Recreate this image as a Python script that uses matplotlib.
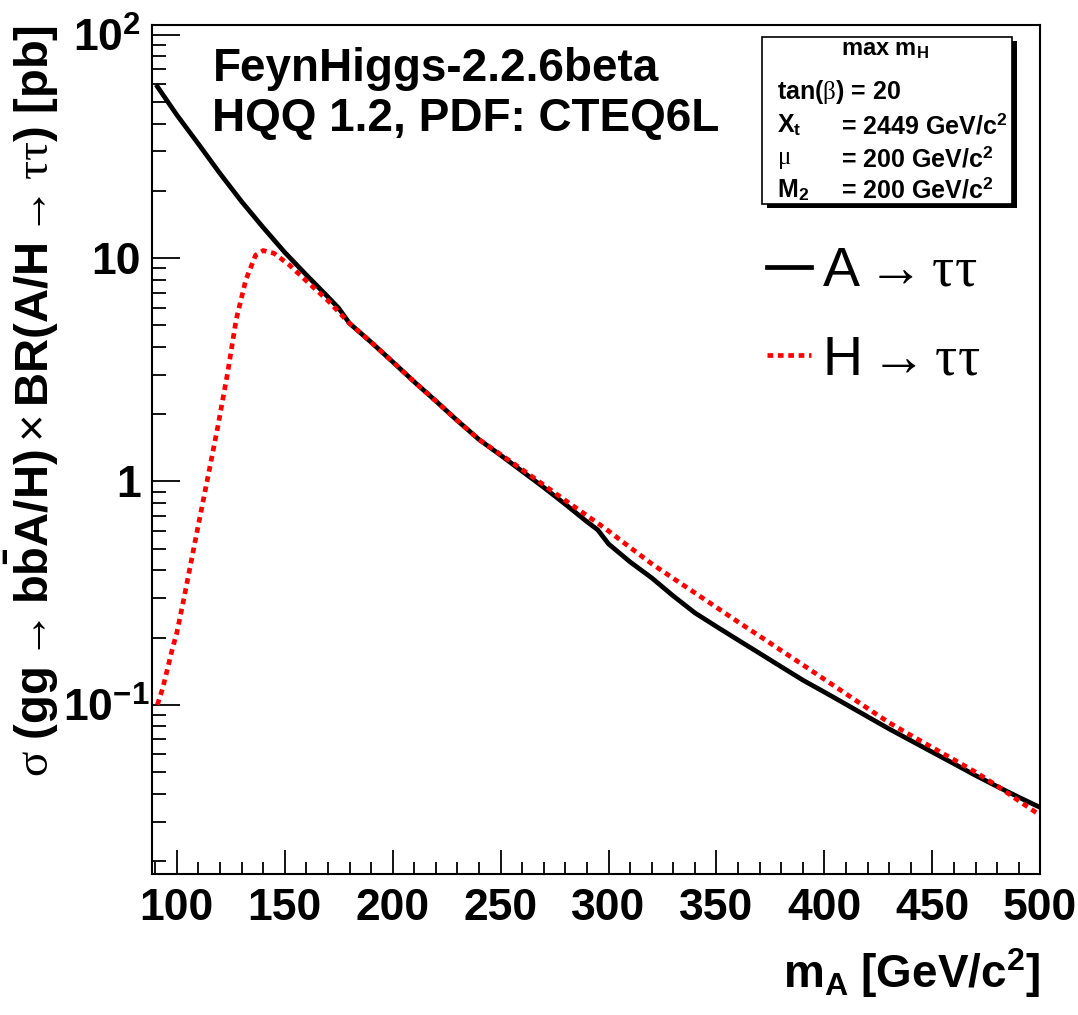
import matplotlib
matplotlib.use("Agg")
import matplotlib.pyplot as plt
from matplotlib.lines import Line2D
from matplotlib.patches import Rectangle
from matplotlib.transforms import ScaledTranslation
from matplotlib.ticker import FixedLocator, FixedFormatter, NullFormatter

plt.rcParams.update({
    "font.family": "Liberation Sans", "font.weight": "bold",
    "mathtext.fontset": "custom",
    "mathtext.rm": "Liberation Sans:weight=normal",
    "mathtext.it": "Liberation Serif:weight=normal",
    "mathtext.bf": "Liberation Sans:weight=bold",
})

# cross section x BR [pb] vs m_A [GeV/c^2]
mass_A = [91, 100, 110, 120, 130, 140, 150, 160, 170, 175, 180, 190, 200, 210, 220, 230,
          240, 250, 260, 270, 280, 290, 295, 300, 310, 320, 330, 340, 350, 360, 370, 380,
          390, 400, 410, 420, 430, 440, 450, 460, 470, 480, 490, 500]
xs_A = [58.5, 43.7, 32.4, 23.9, 17.9, 13.7, 10.6, 8.4, 6.7, 5.96, 5.1, 4.2, 3.43, 2.79, 2.29, 1.87,
        1.54, 1.31, 1.11, 0.94, 0.79, 0.66, 0.607, 0.525, 0.436, 0.37, 0.307, 0.258, 0.224, 0.195,
        0.170, 0.148, 0.129, 0.114, 0.1005, 0.0885, 0.078, 0.0692, 0.0614, 0.0545, 0.0483, 0.0431,
        0.0386, 0.0347]

mass_H = [91, 93.5, 98, 100, 103, 110, 115, 119, 123.5, 127.5, 132, 136.5, 140, 145, 152, 160,
          170, 180, 190, 200, 210, 220, 230, 240, 250, 260, 270, 280, 290, 296, 300, 310, 320,
          330, 340, 350, 360, 370, 380, 390, 400, 410, 420, 430, 440, 450, 460, 470, 480, 490, 500]
xs_H = [0.100, 0.119, 0.179, 0.21, 0.29, 0.64, 1.12, 1.76, 3.05, 5.3, 8.0, 10.3, 10.8, 10.5, 9.33,
        7.9, 6.45, 5.1, 4.2, 3.43, 2.79, 2.29, 1.87, 1.54, 1.32, 1.13, 0.964, 0.822, 0.703, 0.64,
        0.60, 0.506, 0.428, 0.368, 0.317, 0.273, 0.235, 0.203, 0.175, 0.151, 0.130, 0.112, 0.0964,
        0.0832, 0.0731, 0.0644, 0.0568, 0.0500, 0.0434, 0.0372, 0.0320]

y_major = [0.1, 1, 10, 100]
y_major_labels = [r"$\mathbf{10^{-1}}$", "1", "10", r"$\mathbf{10^{2}}$"]

fig = plt.figure(figsize=(10.78, 10.15), dpi=100)
ax = fig.add_axes([0.141, 0.139, 0.824, 0.836])

ax.plot(mass_A, xs_A, color="black", lw=3.4, solid_joinstyle="round")
ax.plot(mass_H, xs_H, color="#ff0000", lw=3.4, ls=(0, (1.2, 1.0)))

ax.set_yscale("log")
ax.set_xlim(88.5, 500)
ax.set_ylim(0.0175, 110)

ax.xaxis.set_major_locator(FixedLocator(range(100, 501, 50)))
ax.xaxis.set_minor_locator(FixedLocator(range(90, 501, 10)))
ax.yaxis.set_major_locator(FixedLocator(y_major))
ax.yaxis.set_major_formatter(FixedFormatter(y_major_labels))
ax.yaxis.set_minor_locator(FixedLocator([m * 10.0 ** e for e in range(-2, 2) for m in range(2, 10)]))
ax.yaxis.set_minor_formatter(NullFormatter())

ax.tick_params(which="both", direction="in", top=False, right=False, width=1.3, labelsize=32)
ax.tick_params(axis="y", which="major", length=20, pad=8)
ax.tick_params(axis="y", which="minor", length=10)
ax.tick_params(axis="x", which="major", length=17, pad=10)
ax.tick_params(axis="x", which="minor", length=9)
for s in ax.spines.values():
    s.set_linewidth(1.5)

ax.set_xlabel(r"$\mathbf{m_{A}\ [GeV/c^{2}]}$", fontsize=33, loc="right")
ax.xaxis.set_label_coords(1.0, -0.085)
ax.set_ylabel(r"$\sigma\ \mathbf{(gg}\rightarrow\mathbf{b\bar{b}A/H)}\times\mathbf{BR(A/H}\rightarrow\tau\tau\mathbf{)\ [pb]}$",
              fontsize=34, loc="top")
ax.yaxis.set_label_coords(-0.102, 1.0)

ax.text(0.068, 0.935, "FeynHiggs-2.2.6beta", transform=ax.transAxes, fontsize=33, va="baseline")
ax.text(0.068, 0.876, "HQQ 1.2, PDF: CTEQ6L", transform=ax.transAxes, fontsize=33, va="baseline")

# parameter box with drop shadow
bx, by, bw, bh = 0.687, 0.790, 0.2815, 0.196
ax.add_patch(Rectangle((bx + 0.005, by - 0.005), bw, bh, transform=ax.transAxes,
                       facecolor="black", edgecolor="none", zorder=4))
ax.add_patch(Rectangle((bx, by), bw, bh, transform=ax.transAxes,
                       facecolor="white", edgecolor="black", lw=1.2, zorder=5))
ax.text(0.825, 0.972, r"max m$_\mathbf{H}$", transform=ax.transAxes, fontsize=17,
        ha="center", va="center", zorder=6)
rows = [(0.921, r"tan($\beta$) = 20", None),
        (0.882, r"X$_\mathbf{t}$", r"= 2449 GeV/c$^\mathbf{2}$"),
        (0.843, r"$\mu$", r"= 200 GeV/c$^\mathbf{2}$"),
        (0.806, r"M$_\mathbf{2}$", r"= 200 GeV/c$^\mathbf{2}$")]
for y, left, right in rows:
    ax.text(0.704, y, left, transform=ax.transAxes, fontsize=18, va="center", zorder=6)
    if right:
        ax.text(0.776, y, right, transform=ax.transAxes, fontsize=18, va="center", zorder=6)

handles = [Line2D([], [], color="black", lw=3.4),
           Line2D([], [], color="#ff0000", lw=3.4, ls=(0, (1.2, 1.0)))]
ax.legend(handles, [r"A$\rightarrow\tau\tau$", r"H$\rightarrow\tau\tau$"],
          loc="upper left", bbox_to_anchor=(0.692, 0.740), frameon=False,
          prop={"size": 40, "weight": "normal"}, handlelength=0.8, handletextpad=0.2,
          labelspacing=0.66, borderpad=0, borderaxespad=0)

# the 10^-1 label sits a little closer to the axis
fig.canvas.draw()
shift = ScaledTranslation(6 / 72, 0, fig.dpi_scale_trans)
for tick in ax.yaxis.get_major_ticks():
    if tick.get_loc() == 0.1:
        tick.label1.set_transform(tick.label1.get_transform() + shift)

fig.savefig("out.png", dpi=100)
